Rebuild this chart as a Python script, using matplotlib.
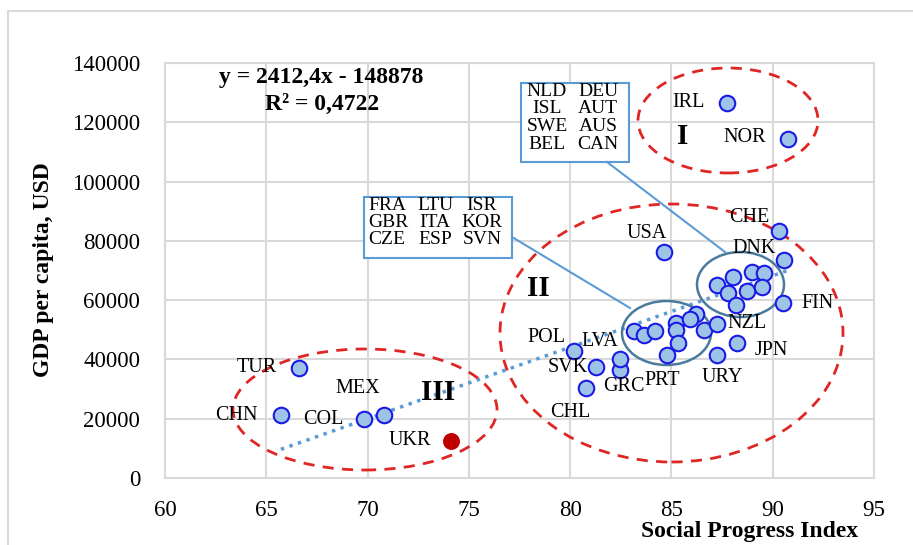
import matplotlib
matplotlib.use("Agg")
import matplotlib.pyplot as plt
from matplotlib.patches import Ellipse, Rectangle
from matplotlib.lines import Line2D
import numpy as np

plt.rcParams['font.family'] = ['Liberation Serif', 'DejaVu Serif']

######################
### Data
######################
# labelled countries
names = ["IRL", "NOR", "CHE", "DNK", "USA", "FIN", "NZL", "JPN", "URY", "PRT",
         "GRC", "LVA", "CHL", "SVK", "POL", "TUR", "CHN", "MEX", "COL", "UKR"]
spi = [87.73, 90.73, 90.29, 90.54, 84.62, 90.49, 87.23, 88.22, 87.23, 84.77,
       82.45, 82.45, 80.77, 81.26, 80.18, 66.61, 65.72, 70.80, 69.82, 74.11]
gdp = [126600, 114500, 83200, 73700, 76100, 58900, 51900, 45400, 41400, 41400,
       36400, 40100, 30300, 37400, 42800, 37000, 21200, 21200, 19900, 12500]

# cluster 1: NLD DEU ISL AUT SWE AUS BEL CAN
c1_spi = [87.23, 88.02, 87.77, 88.17, 88.71, 89.00, 89.55, 89.45]
c1_gdp = [65000, 67700, 62300, 58300, 63000, 69400, 69000, 64300]

# cluster 2: FRA LTU ISR GBR ITA KOR CZE ESP SVN
c2_spi = [83.14, 83.63, 84.17, 85.21, 85.21, 85.31, 86.19, 86.63, 85.90]
c2_gdp = [49500, 48200, 49500, 52200, 49800, 45500, 55200, 49800, 53500]

box1_left = ["NLD", "ISL", "SWE", "BEL"]
box1_right = ["DEU", "AUT", "AUS", "CAN"]
box2_cols = [["FRA", "GBR", "CZE"], ["LTU", "ITA", "ESP"], ["ISR", "KOR", "SVN"]]

slope, intercept = 2412.4, -148878
r2 = 0.4722

# label offsets in pixels (dx, dy up)
label_off = {
    "IRL": (-38, 0), "NOR": (-43, 1), "CHE": (-29, 14), "DNK": (-30, 11),
    "USA": (-17, 19), "FIN": (35, 0), "NZL": (30, 1), "JPN": (35, -7),
    "URY": (6, -22), "PRT": (-5, -25), "GRC": (4, -16), "LVA": (-20, 18),
    "CHL": (-15, -24), "SVK": (-28, 0), "POL": (-27, 14), "TUR": (-42, 1),
    "CHN": (-44, 0), "MEX": (-26, 27), "COL": (-41, 0), "UKR": (-41, 0),
}

W, H = 913, 545
AX_L, AX_R, AX_T, AX_B = 165, 874, 63, 478


def d(xp, yp):
    # pixel position -> data coords
    return (60 + (xp - AX_L) / (AX_R - AX_L) * 35, (AX_B - yp) / (AX_B - AX_T) * 140000)


fig = plt.figure(figsize=(W / 100, H / 100), dpi=100)
ax = fig.add_axes([AX_L / W, 1 - AX_B / H, (AX_R - AX_L) / W, (AX_B - AX_T) / H])
ax.set_xlim(60, 95)
ax.set_ylim(0, 140000)
ax.set_xticks(np.arange(60, 96, 5))
ax.set_yticks(np.arange(0, 140001, 20000))
ax.grid(color='#d9d9d9', linewidth=1.5)
ax.set_axisbelow(True)
for s in ax.spines.values():
    s.set_color('#d9d9d9')
    s.set_linewidth(1.5)
ax.tick_params(length=0, labelsize=16.5)
ax.tick_params(axis='y', pad=18)
ax.tick_params(axis='x', pad=16)

# outer chart border
fig.add_artist(Line2D([8 / W, 1], [1 - 11 / H] * 2, color='#d9d9d9', lw=1.5))
fig.add_artist(Line2D([8 / W] * 2, [1 - 11 / H, 0], color='#d9d9d9', lw=1.5))

# trend line
all_x = np.array(spi + c1_spi + c2_spi)
tx = np.array([all_x.min(), all_x.max()])
ax.plot(tx, slope * tx + intercept, color='#5b9bd5', lw=2.5, linestyle=(0, (1, 1.6)), zorder=2)

face, edge = '#9dc3e6', '#1a1ae6'
mk = dict(s=125, facecolor=face, edgecolor=edge, linewidths=1.5, zorder=4)
ax.scatter(c1_spi, c1_gdp, **mk)
ax.scatter(c2_spi, c2_gdp, **mk)
other = [i for i, n in enumerate(names) if n != "UKR"]
ax.scatter([spi[i] for i in other], [gdp[i] for i in other], **mk)
u = names.index("UKR")
ax.scatter([spi[u]], [gdp[u]], s=125, color='#c00000', zorder=4)

for n, x, y in zip(names, spi, gdp):
    dx, dy = label_off[n]
    ax.annotate(n, (x, y), xytext=(dx * 0.72, dy * 0.72), textcoords='offset points',
                ha='center', va='center', fontsize=14.5, zorder=5)

# red dashed group ellipses
red = dict(fill=False, edgecolor='#e02525', lw=2, linestyle=(0, (4, 3)), zorder=3)
for (l, t, r, b) in [(638, 68, 818, 173), (500, 204, 843, 462), (233, 349, 497, 470)]:
    (x0, y0), (x1, y1) = d(l, b), d(r, t)
    ax.add_patch(Ellipse(((x0 + x1) / 2, (y0 + y1) / 2), x1 - x0, y1 - y0, **red))

# cluster ellipses
for (l, t, r, b) in [(697, 252, 784, 317), (622, 301, 711, 365)]:
    (x0, y0), (x1, y1) = d(l, b), d(r, t)
    ax.add_patch(Ellipse(((x0 + x1) / 2, (y0 + y1) / 2), x1 - x0, y1 - y0,
                         fill=False, edgecolor='#4a7a9c', lw=1.8, zorder=3))

# name boxes + connectors
for (l, t, r, b) in [(521, 83, 629, 162), (364, 197, 512, 258)]:
    (x0, y0), (x1, y1) = d(l, b), d(r, t)
    ax.add_patch(Rectangle((x0, y0), x1 - x0, y1 - y0, facecolor='white',
                           edgecolor='#5b9bd5', lw=1.5, zorder=3))
for (p, q) in [((607, 162), (725, 252)), ((512, 237), (630, 308))]:
    (x0, y0), (x1, y1) = d(*p), d(*q)
    ax.plot([x0, x1], [y0, y1], color='#5b9bd5', lw=1.5, zorder=3)

box_font = dict(fontsize=14, va='center', zorder=5, linespacing=0.9)
for i, (a, b) in enumerate(zip(box1_left, box1_right)):
    yp = 91 + i * 17.7
    ax.text(*d(547, yp), a, ha='center', **box_font)
    ax.text(*d(598, yp), b, ha='center', **box_font)
for j, col in enumerate(box2_cols):
    for i, n in enumerate(col):
        yp = 205 + i * 17.5
        if j == 0:
            ax.text(*d(368, yp), n, ha='left', **box_font)
        else:
            ax.text(*d([435, 482][j - 1], yp), n, ha='center', **box_font)

# group numerals
for txt, (xp, yp) in [("I", (683, 136)), ("II", (538, 288)), ("III", (438, 393))]:
    ax.text(*d(xp, yp), txt, ha='center', va='center', fontsize=21, fontweight='bold', zorder=5)

# regression text
ax.text(*d(321, 77), "y = 2412,4x - 148878", ha='center', va='center',
        fontsize=17, fontweight='bold', zorder=5)
ax.text(*d(322, 104), "R² = 0,4722", ha='center', va='center',
        fontsize=17, fontweight='bold', zorder=5)

fig.text(858 / W, 1 - 531 / H, "Social Progress Index", ha='right', va='center',
         fontsize=17, fontweight='bold')
fig.text(44 / W, 1 - 270 / H, "GDP per capita, USD", ha='center', va='center',
         rotation=90, fontsize=17, fontweight='bold')

plt.savefig("out.png", dpi=100)
